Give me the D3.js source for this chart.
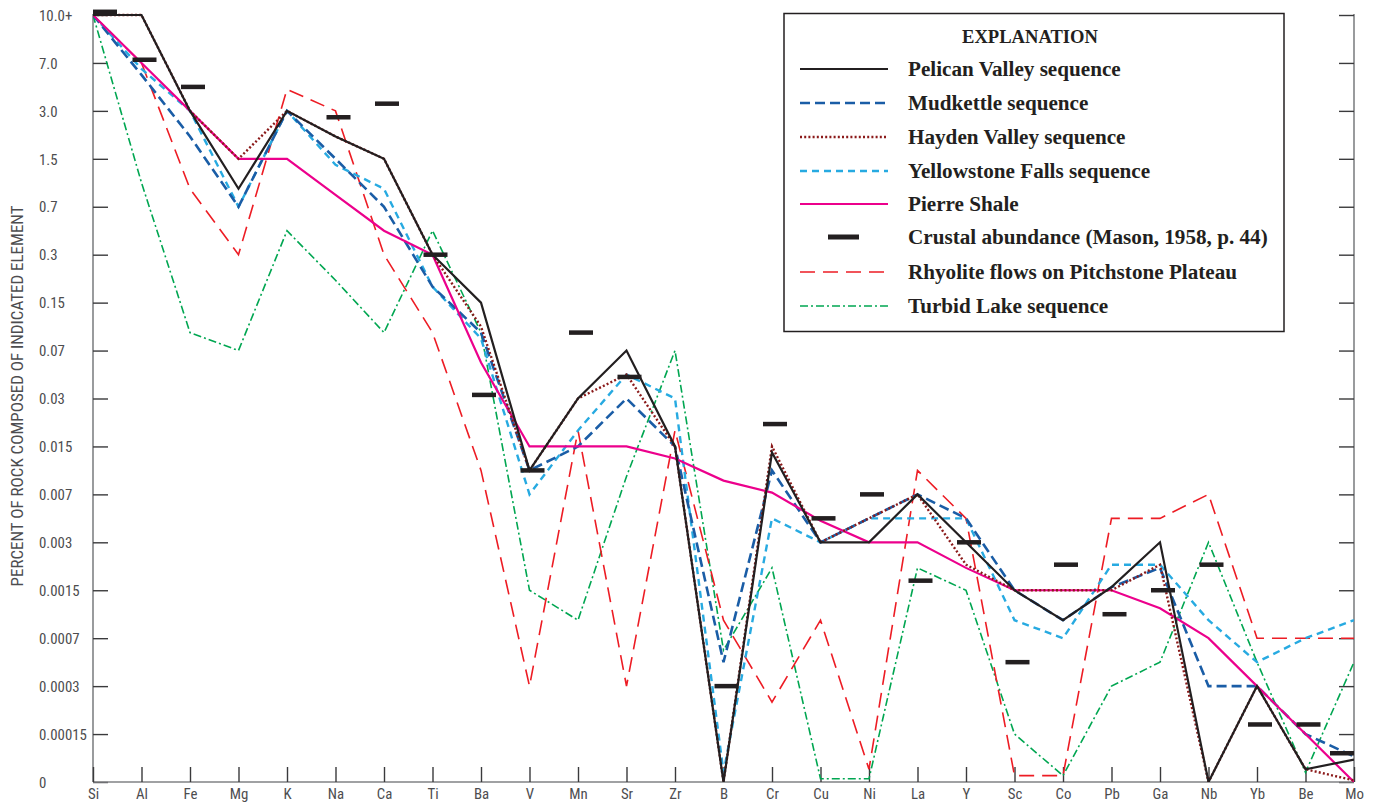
<!DOCTYPE html>
<html>
<head>
<meta charset="utf-8">
<script src="https://cdn.jsdelivr.net/npm/d3@7"></script>
<style>
  html, body { margin: 0; padding: 0; background: #fff; }
  svg { display: block; }
</style>
</head>
<body>
<svg id="chart" width="1381" height="807"></svg>
<script>
// ---------------- DATA ----------------
const elements = ["Si","Al","Fe","Mg","K","Na","Ca","Ti","Ba","V","Mn","Sr","Zr","B","Cr","Cu","Ni","La","Y","Sc","Co","Pb","Ga","Nb","Yb","Be","Mo"];

const yTickValues = [0,0.00015,0.0003,0.0007,0.0015,0.003,0.007,0.015,0.03,0.07,0.15,0.3,0.7,1.5,3,7,10];
const yTickLabels = ["0","0.00015","0.0003","0.0007","0.0015","0.003","0.007","0.015","0.03","0.07","0.15","0.3","0.7","1.5","3.0","7.0","10.0+"];

const pelicanValley   = [10,10,3,1.0,3,2.2,1.5,0.3,0.15,0.011,0.03,0.07,0.015,0,0.014,0.003,0.003,0.007,0.003,0.0015,0.001,0.0016,0.003,0,0.0003,0.00004,0.00007];
const mudkettle       = [10,6.0,2.2,0.7,3,1.5,0.7,0.2,0.1,0.011,0.015,0.03,0.015,0.0005,0.011,0.003,0.005,0.007,0.005,0.0015,0.001,0.0016,0.0022,0.0003,0.0003,0.00015,0.00008];
const haydenValley    = [10,10,3,1.5,3,2.2,1.5,0.3,0.11,0.011,0.03,0.05,0.015,0,0.015,0.003,0.005,0.007,0.0023,0.0015,0.0015,0.0015,0.0023,0,0.0003,0.00004,0.000005];
const yellowstoneFalls= [10,6.5,3,0.7,3,1.4,1.0,0.2,0.09,0.007,0.02,0.05,0.03,0.00003,0.005,0.003,0.005,0.005,0.005,0.001,0.0007,0.0023,0.0023,0.001,0.0005,0.0007,0.001];
const pierreShale     = [10,7,3,1.5,1.5,0.9,0.5,0.3,0.06,0.015,0.015,0.015,0.013,0.0093,0.0073,0.0048,0.003,0.003,0.0022,0.0015,0.0015,0.0015,0.0012,0.0007,0.0003,0.00015,0];
const crustalAbundance= [10.2,7.2,5.0,null,null,2.8,3.6,0.3,0.033,0.011,0.1,0.048,null,0.0003,0.022,0.005,0.007,0.0018,0.003,0.0005,0.0023,0.0011,0.0015,0.0023,0.00018,0.00018,0.00009];
const rhyoliteFlows   = [10,7,1.0,0.3,4.8,3,0.3,0.1,0.011,0.0003,0.02,0.0003,0.02,0.001,0.00025,0.001,0.00004,0.011,0.005,0.00002,0.00002,0.005,0.005,0.007,0.0007,0.0007,0.0007];
const turbidLake      = [10,1.1,0.1,0.07,0.5,0.22,0.1,0.5,0.1,0.0015,0.001,0.01,0.07,0.0006,0.0022,0.00001,0.00001,0.0022,0.0015,0.00015,0.00002,0.0003,0.0005,0.003,0.0005,0.00003,0.0005];

const seriesNames = ["Pelican Valley sequence","Mudkettle sequence","Hayden Valley sequence","Yellowstone Falls sequence","Pierre Shale","Crustal abundance (Mason, 1958, p. 44)","Rhyolite flows on Pitchstone Plateau","Turbid Lake sequence"];

// ---------------- STYLES ----------------
const styles = {
  pelican:    {color:"#231f20", width:2.2, dash:null},
  mudkettle:  {color:"#1a5da6", width:2.6, dash:"10,5"},
  hayden:     {color:"#8b1a1a", width:2.4, dash:"2,2.2"},
  yellowstone:{color:"#27aae1", width:2.4, dash:"7,5"},
  pierre:     {color:"#ec008c", width:2.2, dash:null},
  crustal:    {color:"#231f20"},
  rhyolite:   {color:"#ed1c24", width:1.6, dash:"15,8"},
  turbid:     {color:"#00a651", width:1.6, dash:"8,3,2,3"}
};

const seriesList = [
  {key:"turbid", values:turbidLake},
  {key:"rhyolite", values:rhyoliteFlows},
  {key:"yellowstone", values:yellowstoneFalls},
  {key:"mudkettle", values:mudkettle},
  {key:"pierre", values:pierreShale},
  {key:"hayden", values:haydenValley},
  {key:"pelican", values:pelicanValley}
];

// ---------------- LAYOUT ----------------
const plotLeft = 93, plotRight = 1354, plotTop = 15, plotBottom = 782;
const svg = d3.select("#chart");

const x = d3.scalePoint().domain(elements).range([plotLeft, plotRight]);
const step = (plotBottom - plotTop) / (yTickValues.length - 1);
const y = d3.scaleLinear().domain(yTickValues).range(yTickValues.map((d,i) => plotBottom - i*step));

const axisColor = "#808285";
const labelColor = "#4d4d4f";
const tickFont = "'Liberation Sans Narrow','Roboto Condensed','Liberation Sans',sans-serif";

function fitSize(txt, family, weight, baseSize, targetW) {
  const t = svg.append("text").attr("x",-1000).attr("y",-1000)
    .attr("font-family",family).attr("font-weight",weight).attr("font-size",baseSize).text(txt);
  const w = t.node().getComputedTextLength();
  t.remove();
  return baseSize * targetW / w;
}
const tickSize = Math.min(17, fitSize("0.00015", tickFont, "normal", 15, 48));
const titleSize = Math.min(17, fitSize("PERCENT OF ROCK COMPOSED OF INDICATED ELEMENT", tickFont, "normal", 15, 381));

// clip
svg.append("defs").append("clipPath").attr("id","plotclip")
  .append("rect").attr("x",plotLeft).attr("y",0).attr("width",plotRight-plotLeft).attr("height",plotBottom);

// left axis
const leftAxis = svg.append("g").attr("transform",`translate(${plotLeft},0)`)
  .call(d3.axisLeft(y).tickValues(yTickValues).tickSize(-15).tickFormat((d,i)=>yTickLabels[i]));
leftAxis.select(".domain").attr("stroke",axisColor).attr("stroke-width",1.6).attr("d",`M0,${plotTop-1}V${plotBottom}`);
leftAxis.selectAll(".tick line").attr("stroke","#3a3a3c").attr("stroke-width",1.4);
leftAxis.selectAll(".tick text")
  .style("text-anchor","start").attr("x",39-plotLeft).attr("dy","0.35em")
  .attr("font-family",tickFont).attr("font-size",tickSize).attr("fill",labelColor);

// right axis
const rightAxis = svg.append("g").attr("transform",`translate(${plotRight},0)`)
  .call(d3.axisRight(y).tickValues(yTickValues).tickSize(-15).tickFormat(""));
rightAxis.select(".domain").attr("stroke",axisColor).attr("stroke-width",1.6).attr("d",`M0,${plotTop-1}V${plotBottom}`);
rightAxis.selectAll(".tick line").attr("stroke","#3a3a3c").attr("stroke-width",1.4);

// bottom axis
const bottomAxis = svg.append("g").attr("transform",`translate(0,${plotBottom})`)
  .call(d3.axisBottom(x).tickSize(-15).tickPadding(6));
bottomAxis.select(".domain").attr("stroke",axisColor).attr("stroke-width",1.6).attr("d",`M${plotLeft},0H${plotRight}`);
bottomAxis.selectAll(".tick line").attr("stroke","#3a3a3c").attr("stroke-width",1.4);
bottomAxis.selectAll(".tick text").attr("font-family",tickFont).attr("font-size",tickSize).attr("fill",labelColor);

// y title
svg.append("text")
  .attr("transform","translate(23,396) rotate(-90)")
  .attr("text-anchor","middle")
  .attr("font-family",tickFont).attr("font-size",titleSize).attr("fill",labelColor)
  .text("PERCENT OF ROCK COMPOSED OF INDICATED ELEMENT");

// lines
const line = d3.line().x((d,i)=>x(elements[i])).y(d=>y(d));
const plotG = svg.append("g").attr("clip-path","url(#plotclip)");
seriesList.forEach(s => {
  const st = styles[s.key];
  plotG.append("path")
    .datum(s.values)
    .attr("d", line)
    .attr("fill","none")
    .attr("stroke", st.color)
    .attr("stroke-width", st.width)
    .attr("stroke-dasharray", st.dash)
    .attr("stroke-linejoin","miter");
});

// crustal abundance bars
const barW = 24, barH = 4.5;
plotG.selectAll("rect.crust")
  .data(crustalAbundance.map((v,i)=>({v, el:elements[i]})).filter(d=>d.v!==null))
  .join("rect")
  .attr("class","crust")
  .attr("x", d => Math.max(plotLeft, Math.min(plotRight - barW, x(d.el) - barW/2 + 3)))
  .attr("y", d => y(d.v) - barH/2)
  .attr("width", barW).attr("height", barH)
  .attr("fill", styles.crustal.color);

// legend
const lg = svg.append("g");
lg.append("rect").attr("x",784).attr("y",13.5).attr("width",500).attr("height",318)
  .attr("fill","#fff").attr("stroke","#231f20").attr("stroke-width",1.5);
const serif = "'Liberation Serif','DejaVu Serif',serif";
const legendSize = fitSize("Crustal abundance (Mason, 1958, p. 44)", serif, "bold", 19, 360);
const headSize = fitSize("EXPLANATION", serif, "bold", 18, 136);
lg.append("text").attr("x",1030).attr("y",43).attr("text-anchor","middle")
  .attr("font-family",serif).attr("font-weight","bold").attr("font-size",headSize).attr("fill","#231f20")
  .text("EXPLANATION");
const legendKeys = ["pelican","mudkettle","hayden","yellowstone","pierre","crustal","rhyolite","turbid"];
const rowY = [69,103,137,171,204,237,272,306];
legendKeys.forEach((k,i) => {
  const st = styles[k];
  const yy = rowY[i];
  if (k === "crustal") {
    lg.append("rect").attr("x",828).attr("y",yy-2.5).attr("width",31).attr("height",5).attr("fill",st.color);
  } else {
    lg.append("line").attr("x1",800).attr("x2",888).attr("y1",yy).attr("y2",yy)
      .attr("stroke",st.color).attr("stroke-width",st.width).attr("stroke-dasharray",st.dash);
  }
  lg.append("text").attr("x",908).attr("y",yy+7)
    .attr("font-family",serif).attr("font-weight","bold").attr("font-size",legendSize).attr("fill","#231f20")
    .text(seriesNames[i]);
});
</script>
</body>
</html>
